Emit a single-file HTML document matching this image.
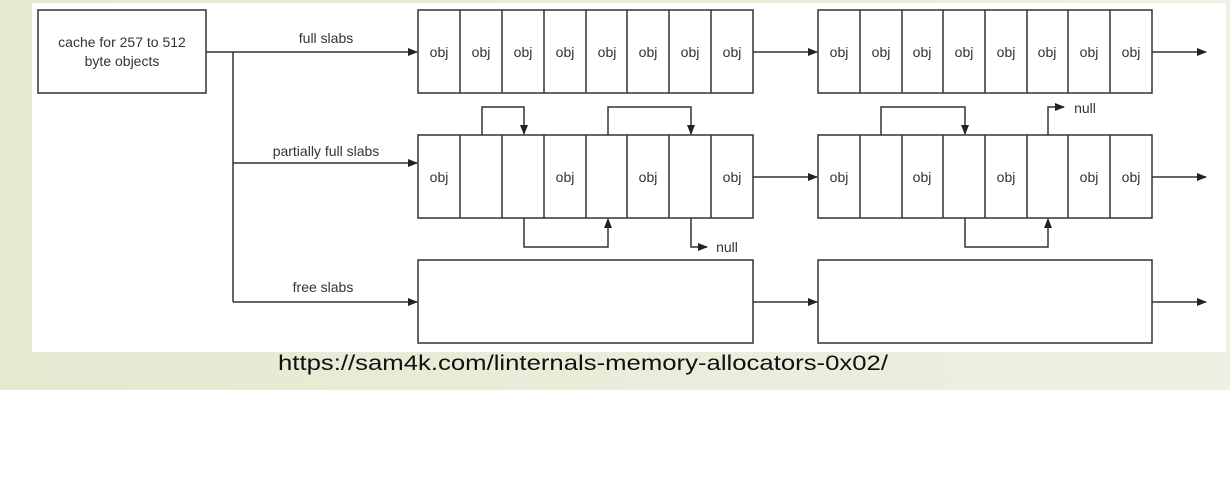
<!DOCTYPE html>
<html><head><style>
body{margin:0;width:1230px;height:478px;background:#fff;overflow:hidden;font-family:"Liberation Sans",sans-serif}
</style></head><body>
<svg width="1230" height="478" xmlns="http://www.w3.org/2000/svg" font-family="Liberation Sans, sans-serif">
<defs>
<linearGradient id="bg" x1="0" x2="1" y1="0" y2="0"><stop offset="0" stop-color="#e3ead0"/><stop offset="1" stop-color="#eef0e2"/></linearGradient>
<marker id="a" markerWidth="10" markerHeight="10" refX="9" refY="5" orient="auto" markerUnits="userSpaceOnUse"><path d="M0,1 L10,5 L0,9 Z" fill="#222"/></marker>
</defs>
<rect x="0" y="0" width="1230" height="390" fill="url(#bg)"/>
<rect x="32" y="3" width="1194" height="349" fill="#fff"/>
<g stroke="#333" stroke-width="1.5" fill="none">
<rect x="38" y="10" width="168" height="83"/>
<line x1="206" y1="52" x2="417" y2="52" marker-end="url(#a)"/>
<line x1="233" y1="52" x2="233" y2="302"/>
<line x1="233" y1="163" x2="417" y2="163" marker-end="url(#a)"/>
<line x1="233" y1="302" x2="417" y2="302" marker-end="url(#a)"/>
<rect x="418" y="10" width="335" height="83"/>
<rect x="818" y="10" width="334" height="83"/>
<rect x="418" y="135" width="335" height="83"/>
<rect x="818" y="135" width="334" height="83"/>
<rect x="418" y="260" width="335" height="83"/>
<rect x="818" y="260" width="334" height="83"/>
<line x1="753" y1="52" x2="817" y2="52" marker-end="url(#a)"/>
<line x1="1152" y1="52" x2="1206" y2="52" marker-end="url(#a)"/>
<line x1="753" y1="177" x2="817" y2="177" marker-end="url(#a)"/>
<line x1="1152" y1="177" x2="1206" y2="177" marker-end="url(#a)"/>
<line x1="753" y1="302" x2="817" y2="302" marker-end="url(#a)"/>
<line x1="1152" y1="302" x2="1206" y2="302" marker-end="url(#a)"/>
<path d="M482,135 V107 H524 V134" marker-end="url(#a)"/>
<path d="M608,135 V107 H691 V134" marker-end="url(#a)"/>
<path d="M524,218 V247 H608 V219" marker-end="url(#a)"/>
<path d="M691,218 V247 H707" marker-end="url(#a)"/>
<path d="M881,135 V107 H965 V134" marker-end="url(#a)"/>
<path d="M1048,135 V107 H1064" marker-end="url(#a)"/>
<path d="M965,218 V247 H1048 V219" marker-end="url(#a)"/>
</g>
<g stroke="#333" stroke-width="1.5">
<line x1="460" y1="10" x2="460" y2="93"/><line x1="502" y1="10" x2="502" y2="93"/><line x1="544" y1="10" x2="544" y2="93"/><line x1="586" y1="10" x2="586" y2="93"/><line x1="627" y1="10" x2="627" y2="93"/><line x1="669" y1="10" x2="669" y2="93"/><line x1="711" y1="10" x2="711" y2="93"/>
<line x1="860" y1="10" x2="860" y2="93"/><line x1="902" y1="10" x2="902" y2="93"/><line x1="943" y1="10" x2="943" y2="93"/><line x1="985" y1="10" x2="985" y2="93"/><line x1="1027" y1="10" x2="1027" y2="93"/><line x1="1068" y1="10" x2="1068" y2="93"/><line x1="1110" y1="10" x2="1110" y2="93"/>
<line x1="460" y1="135" x2="460" y2="218"/><line x1="502" y1="135" x2="502" y2="218"/><line x1="544" y1="135" x2="544" y2="218"/><line x1="586" y1="135" x2="586" y2="218"/><line x1="627" y1="135" x2="627" y2="218"/><line x1="669" y1="135" x2="669" y2="218"/><line x1="711" y1="135" x2="711" y2="218"/>
<line x1="860" y1="135" x2="860" y2="218"/><line x1="902" y1="135" x2="902" y2="218"/><line x1="943" y1="135" x2="943" y2="218"/><line x1="985" y1="135" x2="985" y2="218"/><line x1="1027" y1="135" x2="1027" y2="218"/><line x1="1068" y1="135" x2="1068" y2="218"/><line x1="1110" y1="135" x2="1110" y2="218"/>
</g>
<g font-size="14" fill="#333" text-anchor="middle">
<text x="122" y="47">cache for 257 to 512</text>
<text x="122" y="66">byte objects</text>
<text x="326" y="43">full slabs</text>
<text x="326" y="156">partially full slabs</text>
<text x="323" y="292">free slabs</text>
<text x="439" y="57">obj</text><text x="481" y="57">obj</text><text x="523" y="57">obj</text><text x="565" y="57">obj</text><text x="607" y="57">obj</text><text x="648" y="57">obj</text><text x="690" y="57">obj</text><text x="732" y="57">obj</text>
<text x="839" y="57">obj</text><text x="881" y="57">obj</text><text x="922" y="57">obj</text><text x="964" y="57">obj</text><text x="1006" y="57">obj</text><text x="1047" y="57">obj</text><text x="1089" y="57">obj</text><text x="1131" y="57">obj</text>
<text x="439" y="182">obj</text><text x="565" y="182">obj</text><text x="648" y="182">obj</text><text x="732" y="182">obj</text>
<text x="839" y="182">obj</text><text x="922" y="182">obj</text><text x="1006" y="182">obj</text><text x="1089" y="182">obj</text><text x="1131" y="182">obj</text>
<text x="727" y="252">null</text>
<text x="1085" y="113">null</text>
</g>
<text x="278" y="370" font-size="21" fill="#111" textLength="610" lengthAdjust="spacingAndGlyphs">https://sam4k.com/linternals-memory-allocators-0x02/</text>
</svg>
</body></html>
